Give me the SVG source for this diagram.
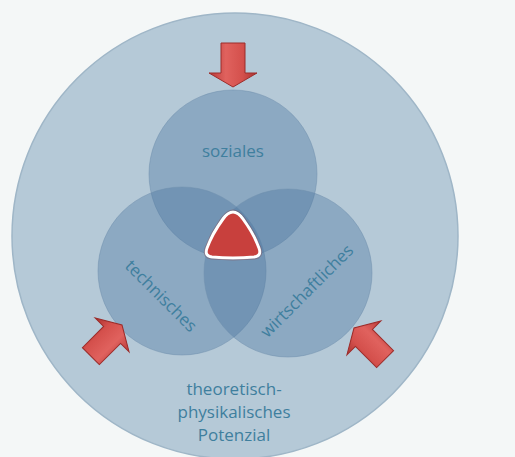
<svg xmlns="http://www.w3.org/2000/svg" width="515" height="457" viewBox="0 0 515 457">
<defs>
<linearGradient id="ag" x1="0" y1="0" x2="1" y2="0">
<stop offset="0" stop-color="#b83a38"/>
<stop offset="0.35" stop-color="#e0625e"/>
<stop offset="0.7" stop-color="#d4504c"/>
<stop offset="1" stop-color="#a83230"/>
</linearGradient>
<g id="arrow">
<path d="M-12,-44 L12,-44 L12,-14 L24,-14 L0,0 L-24,-14 L-12,-14 Z" fill="url(#ag)" stroke="#9c2c2a" stroke-width="1"/>
</g>
</defs>
<style>
.ven{fill:#46729e;fill-opacity:0.37;stroke:#6f90ad;stroke-opacity:0.5;stroke-width:1}
.lbl{font-family:"Open Sans","Liberation Sans",sans-serif;font-size:17px;fill:#3f7f9e;text-anchor:middle}
</style>
<rect width="515" height="457" fill="#f4f7f7"/>
<g id="outer">
<circle cx="235" cy="236" r="223" fill="#b5c9d7" stroke="#9fb6c7" stroke-width="1.5"/>
</g>
<g id="soziales">
<circle class="ven" cx="233" cy="174" r="84"/>
<text class="lbl" x="233" y="157">soziales</text>
</g>
<g id="technisches">
<circle class="ven" cx="182" cy="271" r="84"/>
<text class="lbl" transform="translate(157,300) rotate(45)">technisches</text>
</g>
<g id="wirtschaftliches">
<circle class="ven" cx="288" cy="273" r="84"/>
<text class="lbl" transform="translate(311,295) rotate(-45)">wirtschaftliches</text>
</g>
<g id="center">
<path d="M233,212 Q238,212 243,219 Q254,234 259,248 Q262,256 254,257 Q233,259 212,257 Q204,256 207,248 Q212,234 223,219 Q228,212 233,212 Z" fill="#c8403d" stroke="#ffffff" stroke-width="3"/>
<path d="M233,210 Q239,210 245,218 Q256,233 261,248 Q264,258 255,259 Q233,261 211,259 Q202,258 205,248 Q210,233 221,218 Q227,210 233,210 Z" fill="none" stroke="#8a3a3a" stroke-width="0.6" stroke-opacity="0.6"/>
</g>
<g id="connectors">
<use href="#arrow" transform="translate(233,87)"/>
<use href="#arrow" transform="translate(122,325) rotate(-135)"/>
<use href="#arrow" transform="translate(354,328) rotate(135)"/>
</g>
<g id="potenzial">
<text class="lbl" x="234" y="395">theoretisch-</text>
<text class="lbl" x="234" y="418">physikalisches</text>
<text class="lbl" x="234" y="441">Potenzial</text>
</g>
</svg>
